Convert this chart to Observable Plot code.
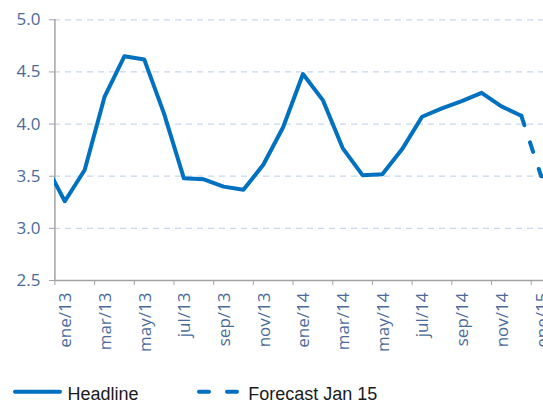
<!DOCTYPE html>
<html><head><meta charset="utf-8">
<script src="https://cdn.jsdelivr.net/npm/d3@7"></script>
<script src="https://cdn.jsdelivr.net/npm/@observablehq/plot@0.6"></script>
<style>
html,body{margin:0;padding:0;background:#fff;overflow:hidden}
#wrap{position:relative;width:543px;height:400px;overflow:hidden;background:#fff}
#legend{position:absolute;left:0;top:365px}
</style></head><body>
<div id="wrap"><div id="chart"></div><svg id="legend" width="543" height="35"></svg></div>
<script>
// Months (dic/12 .. feb/15); index 1 = ene/13
const months = ["dic/12","ene/13","feb/13","mar/13","abr/13","may/13","jun/13","jul/13","ago/13","sep/13","oct/13","nov/13","dic/13",
  "ene/14","feb/14","mar/14","abr/14","may/14","jun/14","jul/14","ago/14","sep/14","oct/14","nov/14","dic/14","ene/15","feb/15"];
// Headline values dic/12 .. dic/14
const headline = [3.62,3.26,3.56,4.26,4.65,4.62,4.10,3.48,3.47,3.40,3.37,3.61,3.97,
  4.48,4.23,3.77,3.51,3.52,3.76,4.07,4.15,4.22,4.30,4.17,4.08];
// Forecast Jan 15
const forecastMonths = ["dic/14","ene/15","feb/15"];
const forecast = [4.08,3.50,3.49];
const tickLabels = ["ene/13","mar/13","may/13","jul/13","sep/13","nov/13","ene/14","mar/14","may/14","jul/14","sep/14","nov/14","ene/15"];
const yTicks = [2.5,3.0,3.5,4.0,4.5,5.0];

const pos = m => months.indexOf(m) - 1;
const hdata = headline.map((v,i)=>({x: pos(months[i]), y: v}));
const fdata = forecastMonths.map((m,i)=>({x: pos(m), y: forecast[i]}));
const labelPositions = tickLabels.map(l => pos(l));
const tickPositions = labelPositions.map(p => p - 0.5);

const blue = "#0070c0";
const labelColor = "#4a6a9a";
const axisGrey = "#a3a3a3";

const plot = Plot.plot({
  width: 543, height: 365, marginLeft: 54, marginRight: 0, marginTop: 19, marginBottom: 85,
  style: {fontFamily: "'Open Sans', 'Liberation Sans', Arial, sans-serif", fontSize: "17px", background: "#fff"},
  x: {type: "linear", domain: [-0.5, 24.12], range: [54.4, 543]},
  y: {domain: [2.5, 5], range: [280, 19.3]},
  marks: [
    Plot.gridY(yTicks.filter(t => t > 2.5), {stroke: "#c8d7ec", strokeOpacity: 1, strokeWidth: 1.3, strokeDasharray: "6,5"}),
    Plot.ruleY([2.5], {stroke: axisGrey, strokeWidth: 1.5}),
    Plot.ruleX([-0.5], {stroke: axisGrey, strokeWidth: 1.5}),
    Plot.axisY(yTicks, {tickFormat: d => d.toFixed(1), tickSize: 5, tickPadding: 9, stroke: axisGrey, fill: labelColor, label: null}),
    Plot.axisX(tickPositions, {tickSize: 5, tickFormat: () => "", stroke: axisGrey, label: null}),
    Plot.axisX(labelPositions, {tickSize: 0, tickRotate: -90, tickPadding: 12, tickFormat: d => tickLabels[d/2], fill: labelColor, label: null, dx: 1}),
    Plot.line(hdata, {x: "x", y: "y", stroke: blue, strokeWidth: 4, strokeLinejoin: "round", clip: true}),
    Plot.line(fdata, {x: "x", y: "y", stroke: blue, strokeWidth: 4, strokeDasharray: "10,18", strokeLinecap: "round", strokeLinejoin: "round", clip: true})
  ]
});
document.getElementById("chart").appendChild(plot);

// Legend
const lg = d3.select("#legend");
const ly = 26.7;
lg.append("line").attr("x1", 15).attr("x2", 60).attr("y1", ly).attr("y2", ly)
  .attr("stroke", blue).attr("stroke-width", 4).attr("stroke-linecap", "round");
lg.append("text").attr("x", 67.5).attr("y", 34.5).text("Headline")
  .attr("font-family", "'Liberation Sans', Arial, sans-serif").attr("font-size", 18).attr("fill", "#1a1a1a");
[[199, 209], [227, 237]].forEach(([a, b]) => lg.append("line").attr("x1", a).attr("x2", b).attr("y1", ly).attr("y2", ly)
  .attr("stroke", blue).attr("stroke-width", 4).attr("stroke-linecap", "round"));
lg.append("text").attr("x", 248.3).attr("y", 34.5).text("Forecast Jan 15")
  .attr("font-family", "'Liberation Sans', Arial, sans-serif").attr("font-size", 18).attr("fill", "#1a1a1a");
</script></body></html>
